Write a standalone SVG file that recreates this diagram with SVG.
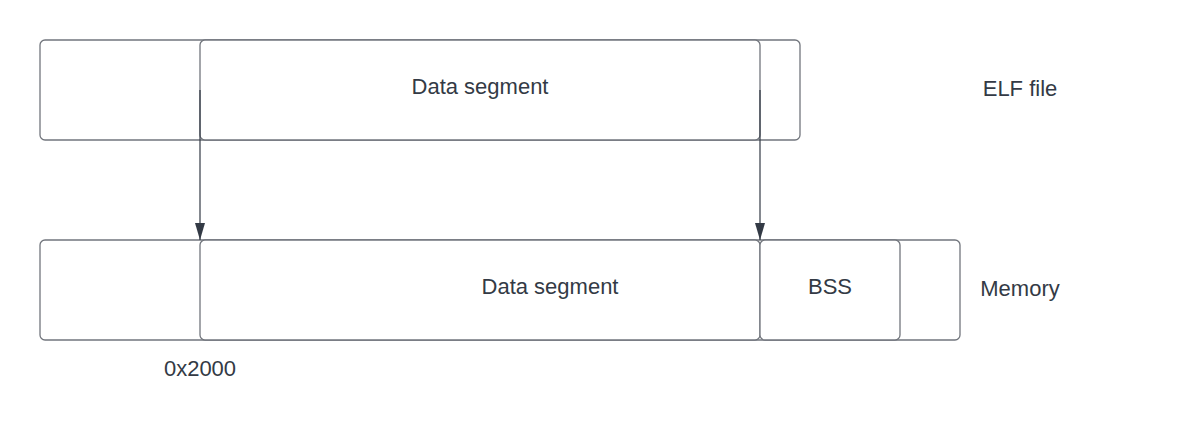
<svg xmlns="http://www.w3.org/2000/svg" width="1180" height="440" viewBox="0 0 1180 440">
<style>
.box{fill:#ffffff;stroke:#72767d;stroke-width:1.3}
.t{font-family:"Liberation Sans",Arial,sans-serif;font-size:22px;fill:#333a45;text-anchor:middle}
.c{stroke:#333a45;stroke-width:1.2;fill:none}
</style>
<defs>
<marker id="ah" markerWidth="18" markerHeight="12" refX="17" refY="6" orient="auto" markerUnits="userSpaceOnUse" viewBox="0 0 18 12">
<path d="M0,1 L17,6 L0,11 Z" fill="#333a45"/>
</marker>
</defs>
<rect width="1180" height="440" fill="#ffffff"/>
<g id="elf-file">
<rect class="box" x="40" y="40" width="760" height="100" rx="5"/>
</g>
<g id="elf-data">
<rect class="box" x="200" y="40" width="560" height="100" rx="5"/>
<text class="t" x="480" y="94">Data segment</text>
</g>
<g id="mem">
<rect class="box" x="40" y="240" width="920" height="100" rx="5"/>
</g>
<g id="mem-data">
<rect class="box" x="200" y="240" width="560" height="100" rx="5"/>
<text class="t" x="550" y="294">Data segment</text>
</g>
<g id="bss">
<rect class="box" x="760" y="240" width="140" height="100" rx="5"/>
<text class="t" x="830" y="294">BSS</text>
</g>
<g id="labels">
<text class="t" x="1020" y="96">ELF file</text>
<text class="t" x="1020" y="296">Memory</text>
<text class="t" x="200" y="376">0x2000</text>
</g>
<g id="connectors">
<path class="c" d="M200,90 L200,240" marker-end="url(#ah)"/>
<path class="c" d="M760,90 L760,240" marker-end="url(#ah)"/>
</g>
</svg>
